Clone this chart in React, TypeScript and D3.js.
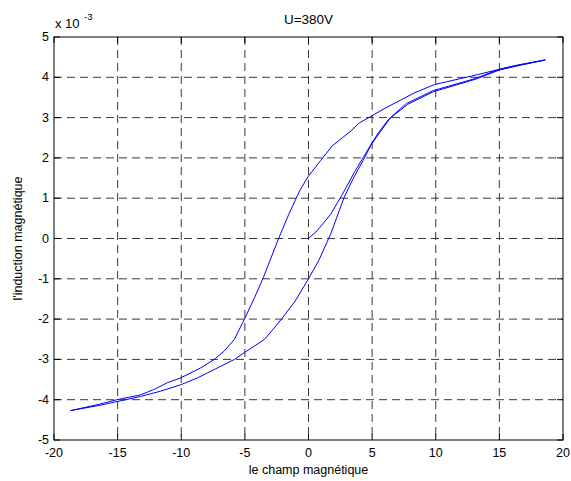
import React from 'react';
import * as d3 from 'd3';

const chartTitle = 'U=380V';
const xLabel = 'le champ magnétique';
const yLabel = "l'induction magnétique";
const xTicks = [-20, -15, -10, -5, 0, 5, 10, 15, 20];
const yTicks = [-5, -4, -3, -2, -1, 0, 1, 2, 3, 4, 5];

// descending branch (from the top-right tip to the bottom-left tip), y in 1e-3
const descX = [18.6, 16.2, 14.9, 12.8, 9.9, 8.3, 6.0, 4.9, 4.0, 3.34, 1.87, 0.94, 0, -0.67, -1.55, -2.35, -3.55, -4.23, -5.03, -5.82, -6.61, -7.4, -8.47, -10.05, -11.1, -12.17, -13.2, -15.05, -16.4, -18.7];
const descY = [4.43, 4.28, 4.19, 4.03, 3.82, 3.61, 3.23, 3.03, 2.87, 2.67, 2.3, 1.93, 1.55, 1.2, 0.6, 0.0, -0.97, -1.46, -2.0, -2.5, -2.79, -3.0, -3.21, -3.46, -3.58, -3.75, -3.88, -4.0, -4.11, -4.27];

// ascending branch (from the bottom-left tip to the top-right tip)
const ascX = [-18.7, -16.4, -14.8, -13.2, -11.64, -10.05, -8.73, -7.4, -5.82, -5.03, -3.44, -2.89, -2.12, -1.04, 0, 0.8, 1.74, 2.8, 3.48, 4.28, 4.95, 5.6, 6.4, 7.8, 9.8, 13.1, 15.0, 16.5, 18.6];
const ascY = [-4.27, -4.14, -4.03, -3.92, -3.79, -3.63, -3.46, -3.25, -3.0, -2.83, -2.5, -2.29, -2.0, -1.55, -1.0, -0.55, 0.11, 1.02, 1.47, 1.93, 2.34, 2.63, 2.98, 3.33, 3.64, 3.95, 4.18, 4.29, 4.43];

// initial magnetisation curve, starting at the origin
const initX = [0, 0.67, 1.74, 2.67, 3.6, 4.28, 5.08, 5.6, 6.3, 7.7, 9.8, 13.0, 15.0, 16.5, 18.6];
const initY = [0, 0.19, 0.6, 1.1, 1.64, 2.0, 2.42, 2.67, 2.96, 3.35, 3.67, 3.96, 4.2, 4.31, 4.43];

const W = 571;
const H = 481;
const L = 54;
const R = 563;
const T = 37;
const B = 440;

export default function App() {
  const x = d3.scaleLinear().domain([-20, 20]).range([L, R]);
  const y = d3.scaleLinear().domain([-5, 5]).range([B, T]);
  const line = d3
    .line<[number, number]>()
    .x((d) => x(d[0]))
    .y((d) => y(d[1]));
  const toPts = (xs: number[], ys: number[]) => xs.map((v, i) => [v, ys[i]] as [number, number]);
  const series = [toPts(descX, descY), toPts(ascX, ascY), toPts(initX, initY)];
  const font = 'Liberation Sans, Arial, Helvetica, sans-serif';
  const tickLen = 6;

  return (
    <svg
      width={W}
      height={H}
      style={{ position: 'absolute', left: 0, top: 0, background: '#fff' }}
      fontFamily={font}
    >
      <rect x={0} y={0} width={W} height={H} fill="#fff" />
      {/* grid */}
      {xTicks.slice(1, -1).map((t) => (
        <line key={'gx' + t} x1={x(t)} x2={x(t)} y1={T} y2={B} stroke="#222" strokeWidth={0.9} strokeDasharray="8,5" />
      ))}
      {yTicks.slice(1, -1).map((t) => (
        <line key={'gy' + t} x1={L} x2={R} y1={y(t)} y2={y(t)} stroke="#222" strokeWidth={0.9} strokeDasharray="8,5" />
      ))}
      {/* ticks */}
      {xTicks.map((t) => (
        <g key={'tx' + t}>
          <line x1={x(t)} x2={x(t)} y1={B} y2={B - tickLen} stroke="#000" />
          <line x1={x(t)} x2={x(t)} y1={T} y2={T + tickLen} stroke="#000" />
          <text x={x(t)} y={457} fontSize={12.5} textAnchor="middle" fill="#000">
            {t}
          </text>
        </g>
      ))}
      {yTicks.map((t) => (
        <g key={'ty' + t}>
          <line x1={L} x2={L + tickLen} y1={y(t)} y2={y(t)} stroke="#000" />
          <line x1={R} x2={R - tickLen} y1={y(t)} y2={y(t)} stroke="#000" />
          <text x={49} y={y(t)} fontSize={12.5} textAnchor="end" dominantBaseline="central" fill="#000">
            {t}
          </text>
        </g>
      ))}
      {/* curves */}
      {series.map((s, i) => (
        <path key={'s' + i} d={line(s) || ''} fill="none" stroke="#0000ff" strokeWidth={1} />
      ))}
      {/* box */}
      <rect x={L} y={T} width={R - L} height={B - T} fill="none" stroke="#000" strokeWidth={1} />
      {/* exponent */}
      <text x={55} y={28} fontSize={13} fill="#000">
        x 10
      </text>
      <text x={84} y={20} fontSize={9.5} fill="#000">
        -3
      </text>
      {/* title */}
      <text x={(L + R) / 2} y={24} fontSize={13.5} textAnchor="middle" fill="#000">
        {chartTitle}
      </text>
      {/* axis labels */}
      <text x={(L + R) / 2} y={474} fontSize={12.5} textAnchor="middle" fill="#000">
        {xLabel}
      </text>
      <text
        transform={`translate(22, ${(T + B) / 2}) rotate(-90)`}
        fontSize={12.5}
        textAnchor="middle"
        fill="#000"
      >
        {yLabel}
      </text>
    </svg>
  );
}
